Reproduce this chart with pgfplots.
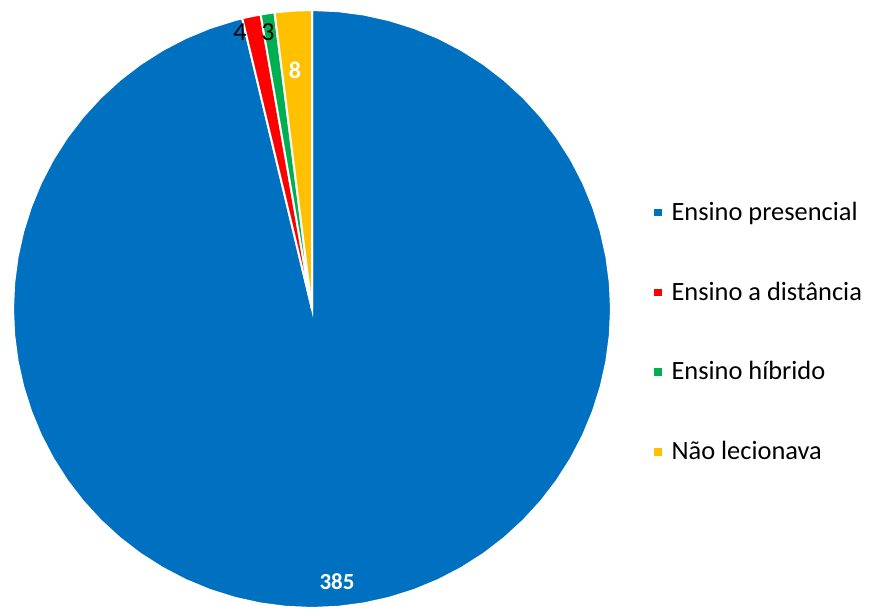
\documentclass[border=0pt]{standalone}
\usepackage{pgfplots}
\pgfplotsset{compat=1.18}
\usepgfplotslibrary{polar}
\usepackage{fontspec}
\setmainfont{Carlito}
\definecolor{cblue}{HTML}{0070C0}
\definecolor{cred}{HTML}{FF0000}
\definecolor{cgreen}{HTML}{00B050}
\definecolor{cyellow}{HTML}{FFC000}
\begin{document}
\begin{tikzpicture}
\begin{axis}[
  hide axis, scale only axis, width=437pt, height=304.5pt,
  xmin=-312, xmax=562, ymin=-300, ymax=309,
  enlargelimits=false, clip=false,
  legend style={at={(axis cs:342,111)}, anchor=north west, draw=none, fill=none,
    font=\fontsize{13.2}{15}\selectfont, row sep=25.2pt, legend cell align=left,
    inner sep=0pt, outer sep=0pt,
    /tikz/every odd column/.append style={column sep=3pt}},
  legend image code/.code={\fill[#1,draw=none] (0pt,-1.9pt) rectangle (3.8pt,1.9pt);},
]
% values: 385, 4, 3, 8 (total 400); angles in degrees, clockwise from 12 o'clock
\addplot[fill=cblue, draw=white, line width=1pt, data cs=polar] coordinates {
 (0,0) (103.5,299) (105,299) (110,299) (115,299) (120,299) (125,299) (130,299) (135,299)
 (140,299) (145,299) (150,299) (155,299) (160,299) (165,299) (170,299) (175,299) (180,299)
 (185,299) (190,299) (195,299) (200,299) (205,299) (210,299) (215,299) (220,299) (225,299)
 (230,299) (235,299) (240,299) (245,299) (250,299) (255,299) (260,299) (265,299) (270,299)
 (275,299) (280,299) (285,299) (290,299) (295,299) (300,299) (305,299) (310,299) (315,299)
 (320,299) (325,299) (330,299) (335,299) (340,299) (345,299) (350,299) (355,299) (360,299)
 (365,299) (370,299) (375,299) (380,299) (385,299) (390,299) (395,299) (400,299) (405,299)
 (410,299) (415,299) (420,299) (425,299) (430,299) (435,299) (440,299) (445,299) (450,299)
} -- cycle;
\addlegendentry{Ensino presencial}
\addplot[fill=cred, draw=white, line width=1pt, data cs=polar] coordinates {
 (0,0) (99.9,299) (101.7,299) (103.5,299)
} -- cycle;
\addlegendentry{Ensino a distância}
\addplot[fill=cgreen, draw=white, line width=1pt, data cs=polar] coordinates {
 (0,0) (97.2,299) (98.55,299) (99.9,299)
} -- cycle;
\addlegendentry{Ensino híbrido}
\addplot[fill=cyellow, draw=white, line width=1pt, data cs=polar] coordinates {
 (0,0) (90,299) (93.6,299) (97.2,299)
} -- cycle;
\addlegendentry{Não lecionava}
\path (rel axis cs:0,0) rectangle (rel axis cs:1,1);
\node[text=white, font=\fontsize{11.5}{13}\selectfont\bfseries] at (axis cs:25,-273) {385};
\node[text=white, font=\fontsize{12}{13}\selectfont\bfseries] at (axis cs:-17,239) {8};
\node[text=black, font=\fontsize{13}{14}\selectfont] at (axis cs:-72,277) {4};
\node[text=black, font=\fontsize{13}{14}\selectfont] at (axis cs:-44,277) {3};
\end{axis}
\end{tikzpicture}
\end{document}
